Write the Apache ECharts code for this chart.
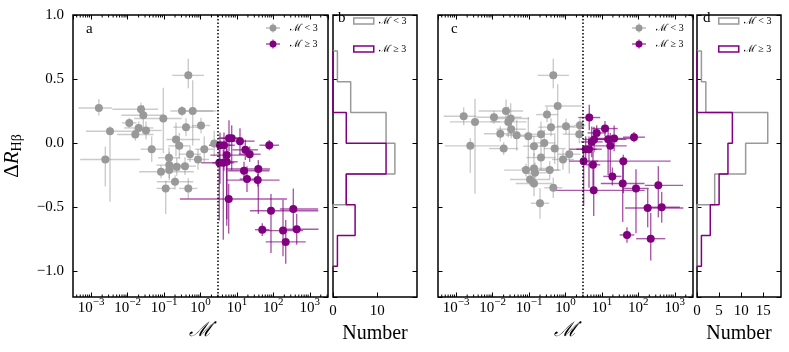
<!DOCTYPE html>
<html>
<head>
<meta charset="utf-8">
<script src="https://cdn.jsdelivr.net/npm/echarts@6/dist/echarts.min.js"></script>
<style>
html, body { margin: 0; padding: 0; background: #fff; }
#chart { width: 789px; height: 352px; }
</style>
</head>
<body>
<div id="chart"></div>
<script>
// each row: [log10 Mdot, dR_Hb, xErrMinus (dex), xErrPlus (dex), yErrMinus, yErrPlus]
const aLow = [
  [-2.79, 0.275, 0.56, 0.36, 0.06, 0.07], [-0.335, 0.529, 0.44, 0.43, 0.10, 0.13],
  [-1.633, 0.265, 0.79, 0.47, 0.06, 0.05], [-1.57, 0.218, 0.6, 0.55, 0.13, 0.08],
  [-1.955, 0.158, 0.2, 0.2, 0.04, 0.04], [-2.484, 0.093, 0.66, 0.69, 0.55, 0.04],
  [-1.02, 0.192, 0.8, 0.5, 0.27, 0.24], [-1.697, 0.119, 0.4, 0.4, 0.05, 0.05],
  [-1.79, 0.068, 0.5, 0.5, 0.05, 0.05], [-1.496, 0.099, 0.35, 0.43, 0.07, 0.07],
  [-1.34, -0.047, 0.3, 0.3, 0.1, 0.1], [-0.508, 0.251, 0.32, 0.86, 0.04, 0.04],
  [-0.214, 0.251, 0.35, 0.65, 0.27, 0.24], [-0.398, 0.125, 0.35, 0.35, 0.07, 0.07],
  [0.014, 0.138, 0.25, 0.25, 0.06, 0.06], [-0.673, 0.029, 0.26, 0.66, 0.13, 0.13],
  [-0.582, -0.021, 0.3, 0.3, 0.1, 0.1], [-0.288, -0.086, 0.3, 0.3, 0.06, 0.06],
  [0.104, -0.047, 0.25, 0.25, 0.1, 0.1], [0.378, -0.003, 0.1, 0.1, 0.1, 0.1],
  [-0.865, -0.114, 0.3, 0.3, 0.08, 0.08], [-0.069, -0.127, 0.3, 0.3, 0.08, 0.08],
  [-2.613, -0.127, 0.69, 0.95, 0.21, 0.1], [-0.857, -0.171, 0.35, 0.35, 0.1, 0.1],
  [-0.653, -0.184, 0.3, 0.3, 0.07, 0.07], [-0.426, -0.179, 0.3, 0.3, 0.07, 0.07],
  [-1.084, -0.223, 0.6, 0.9, 0.05, 0.05], [-0.857, -0.21, 0.3, 0.3, 0.08, 0.08],
  [-0.7, -0.301, 0.5, 0.5, 0.06, 0.05], [-0.955, -0.353, 0.25, 0.25, 0.2, 0.06],
  [-0.335, -0.353, 0.25, 0.25, 0.08, 0.08]
];
const aHigh = [
  [0.535, -0.016, 0.3, 0.3, 0.3, 0.1], [0.645, -0.016, 0.3, 0.3, 0.2, 0.1],
  [0.782, 0.039, 0.3, 0.3, 0.1, 0.14], [0.856, 0.039, 0.3, 0.3, 0.25, 0.1],
  [1.084, 0.016, 0.4, 0.4, 0.1, 0.1], [1.888, -0.016, 0.27, 0.27, 0.04, 0.04],
  [1.23, -0.052, 0.35, 0.35, 0.08, 0.08], [1.35, -0.086, 0.3, 0.3, 0.06, 0.06],
  [0.72, -0.093, 0.45, 0.5, 0.5, 0.1], [0.516, -0.153, 0.5, 0.3, 0.45, 0.1],
  [0.626, -0.153, 0.3, 0.3, 0.6, 0.1], [0.72, -0.145, 0.3, 0.3, 0.5, 0.1],
  [1.194, -0.215, 0.45, 0.7, 0.07, 0.07], [1.587, -0.202, 0.88, 0.32, 0.35, 0.07],
  [1.276, -0.28, 0.2, 0.2, 0.1, 0.1], [1.57, -0.288, 0.85, 0.6, 0.05, 0.05],
  [0.774, -0.436, 1.34, 1.6, 0.27, 0.12], [1.935, -0.527, 0.58, 1.3, 0.33, 0.13],
  [2.548, -0.514, 0.37, 0.68, 0.16, 0.16], [1.696, -0.675, 0.2, 0.2, 0.05, 0.05],
  [2.265, -0.682, 0.55, 0.55, 0.2, 0.24], [2.64, -0.672, 0.46, 0.6, 0.12, 0.12],
  [2.339, -0.77, 0.55, 0.55, 0.17, 0.17]
];
const cLow = [
  [-2.795, 0.21, 0.55, 0.35, 0.07, 0.07], [-2.484, 0.166, 0.69, 0.69, 0.56, 0.18],
  [-2.613, -0.021, 0.7, 0.8, 0.21, 0.06], [-1.963, 0.202, 0.48, 0.76, 0.05, 0.05],
  [-1.633, 0.251, 0.75, 0.47, 0.09, 0.09], [-1.505, 0.192, 0.5, 0.5, 0.12, 0.12],
  [-1.57, 0.166, 0.5, 0.5, 0.12, 0.12], [-1.49, 0.109, 0.4, 0.4, 0.07, 0.07],
  [-1.79, 0.073, 0.45, 0.45, 0.06, 0.06], [-1.34, 0.062, 0.3, 0.3, 0.12, 0.12],
  [-1.02, 0.054, 0.3, 0.3, 0.3, 0.15], [-1.697, -0.042, 0.4, 0.4, 0.05, 0.05],
  [-0.214, 0.29, 0.35, 0.65, 0.5, 0.17], [-0.335, 0.529, 0.43, 0.43, 0.1, 0.13],
  [-0.508, 0.223, 0.3, 0.3, 0.06, 0.06], [-0.398, 0.125, 0.35, 0.75, 0.07, 0.07],
  [0.014, 0.132, 0.25, 0.25, 0.06, 0.06], [0.398, 0.14, 0.15, 0.15, 0.05, 0.05],
  [0.378, 0.07, 0.45, 0.1, 0.07, 0.07], [-0.673, 0.07, 0.35, 0.35, 0.1, 0.1],
  [-0.582, 0.002, 0.3, 0.3, 0.1, 0.1], [-0.865, -0.023, 0.3, 0.3, 0.08, 0.08],
  [-0.297, -0.042, 0.3, 0.3, 0.12, 0.12], [0.104, -0.086, 0.3, 0.3, 0.15, 0.2],
  [-0.673, -0.112, 0.4, 0.4, 0.1, 0.1], [-0.069, -0.127, 0.3, 0.3, 0.08, 0.08],
  [-1.084, -0.21, 0.6, 0.9, 0.05, 0.05], [-0.865, -0.197, 0.35, 0.35, 0.12, 0.12],
  [-0.837, -0.231, 0.3, 0.3, 0.08, 0.08], [-0.434, -0.21, 0.3, 0.3, 0.07, 0.07],
  [-0.974, -0.283, 0.55, 0.55, 0.05, 0.05], [-0.865, -0.314, 0.5, 0.5, 0.1, 0.05],
  [-0.335, -0.348, 0.25, 0.25, 0.08, 0.08], [-0.7, -0.469, 0.25, 0.25, 0.12, 0.12]
];
const cHigh = [
  [0.653, 0.2, 0.3, 0.3, 0.1, 0.1], [1.084, 0.114, 0.35, 0.35, 0.06, 0.06],
  [0.856, 0.08, 0.25, 0.25, 0.06, 0.06], [1.88, 0.047, 0.3, 0.3, 0.04, 0.04],
  [1.17, 0.031, 0.5, 0.5, 0.28, 0.1], [1.335, 0.037, 0.5, 0.5, 0.1, 0.1],
  [0.782, 0.029, 0.3, 0.3, 0.1, 0.1], [0.72, 0.01, 0.3, 0.3, 0.12, 0.12],
  [1.23, -0.021, 0.45, 0.45, 0.25, 0.1], [0.554, -0.047, 0.45, 0.3, 0.1, 0.1],
  [0.645, -0.047, 0.35, 0.35, 0.3, 0.1], [0.498, -0.14, 0.4, 0.4, 0.35, 0.1],
  [0.755, -0.169, 0.2, 0.2, 0.2, 0.1], [1.587, -0.14, 0.87, 1.3, 0.25, 0.05],
  [1.286, -0.259, 0.25, 0.25, 0.07, 0.07], [1.57, -0.314, 0.6, 0.6, 0.3, 0.2],
  [1.935, -0.353, 0.35, 0.35, 0.35, 0.15], [2.548, -0.329, 0.37, 0.68, 0.25, 0.15],
  [0.774, -0.368, 1.1, 1.4, 0.2, 0.2], [2.256, -0.506, 0.62, 0.98, 0.15, 0.15],
  [2.64, -0.5, 0.5, 0.5, 0.12, 0.12], [1.688, -0.716, 0.2, 0.2, 0.06, 0.06],
  [2.339, -0.745, 0.4, 0.4, 0.17, 0.2]
];

// histogram bins (dR edges, bottom to top) and counts per bin
const binEdges = [-0.96, -0.72, -0.48, -0.24, 0, 0.24, 0.48, 0.72];
const bLowCounts = [0, 0, 3, 14, 12, 4, 1];
const bHighCounts = [1, 5, 3, 12, 3, 0, 0];
const dLowCounts = [0, 0, 4, 11, 16, 2, 1];
const dHighCounts = [1, 3, 5, 7, 8, 0, 0];

const MDOT_SPLIT = 3;
const LOW = 'ℳ̇ < 3';
const HIGH = 'ℳ̇ ≥ 3';
const Y_MIN = -1.2, Y_MAX = 1.0;
const X_MIN = -3.5, X_MAX = 3.5;

const FONT = "'Liberation Serif', 'DejaVu Serif', serif";
const GREY = '#999999';
const PURPLE = '#800080';

const chart = echarts.init(document.getElementById('chart'));

// outline of a horizontal step histogram
function stepPoints(edges, counts) {
  const pts = [[0, edges[0]]];
  counts.forEach((c, i) => {
    pts.push([c, edges[i]]);
    pts.push([c, edges[i + 1]]);
  });
  pts.push([0, edges[edges.length - 1]]);
  return pts;
}

// minor ticks of the log axis, at 2..9 x 10^n
const minorTicks = [];
for (let n = -4; n <= 3; n++) {
  for (let k = 2; k <= 9; k++) {
    const v = n + Math.log10(k);
    if (v > X_MIN && v < X_MAX) minorTicks.push([v, 0]);
  }
}

function errorBarSeries(rows, xi, yi, color) {
  return {
    type: 'custom',
    xAxisIndex: xi,
    yAxisIndex: yi,
    silent: true,
    data: rows,
    renderItem(params, api) {
      const x = api.value(0), y = api.value(1);
      const l = api.coord([x - api.value(2), y]);
      const r = api.coord([x + api.value(3), y]);
      const b = api.coord([x, y - api.value(4)]);
      const t = api.coord([x, y + api.value(5)]);
      const style = { stroke: color, lineWidth: 1.4 };
      return {
        type: 'group',
        children: [
          { type: 'line', shape: { x1: l[0], y1: l[1], x2: r[0], y2: r[1] }, style },
          { type: 'line', shape: { x1: b[0], y1: b[1], x2: t[0], y2: t[1] }, style }
        ]
      };
    }
  };
}

function markerSeries(name, rows, xi, yi, color, withLine) {
  const s = {
    name,
    type: 'scatter',
    xAxisIndex: xi,
    yAxisIndex: yi,
    symbolSize: 8,
    itemStyle: { color, opacity: 1 },
    data: rows.map(r => [r[0], r[1]])
  };
  if (withLine) {
    s.markLine = {
      silent: true,
      symbol: ['none', 'none'],
      label: { show: false },
      lineStyle: { color: '#000', type: [1.5, 2], width: 1.5 },
      data: [{ xAxis: Math.log10(MDOT_SPLIT) }]
    };
  }
  return s;
}

function minorTickSeries(xi, yi) {
  return {
    type: 'custom',
    xAxisIndex: xi,
    yAxisIndex: yi,
    silent: true,
    data: minorTicks,
    renderItem(params, api) {
      const v = api.value(0);
      const bot = api.coord([v, Y_MIN]);
      const top = api.coord([v, Y_MAX]);
      const style = { stroke: '#000', lineWidth: 1 };
      return {
        type: 'group',
        children: [
          { type: 'line', shape: { x1: bot[0], y1: bot[1], x2: bot[0], y2: bot[1] - 2.5 }, style },
          { type: 'line', shape: { x1: top[0], y1: top[1], x2: top[0], y2: top[1] + 2.5 }, style }
        ]
      };
    }
  };
}

function histSeries(name, counts, xi, yi, color) {
  return {
    name,
    type: 'line',
    xAxisIndex: xi,
    yAxisIndex: yi,
    symbol: 'none',
    lineStyle: { color, width: 1.5 },
    itemStyle: { color },
    data: stepPoints(binEdges, counts)
  };
}

const tickStyle = { inside: true, length: 4.5, lineStyle: { color: '#000', width: 1 } };
const noLine = { show: false, onZero: false };

function logAxis(gridIndex, position, labels) {
  return {
    type: 'value',
    gridIndex,
    position,
    min: X_MIN,
    max: X_MAX,
    splitNumber: 7,
    axisLine: noLine,
    axisTick: tickStyle,
    splitLine: { show: false },
    axisLabel: {
      show: labels,
      showMinLabel: false,
      showMaxLabel: false,
      margin: 0,
      formatter: v => '{b|10}{s|' + (v < 0 ? '−' + (-v) : v) + '}',
      rich: {
        b: { fontFamily: FONT, fontSize: 15, color: '#000', lineHeight: 19, verticalAlign: 'bottom' },
        s: { fontFamily: FONT, fontSize: 11, color: '#000', lineHeight: 11, verticalAlign: 'top' }
      }
    },
    name: labels ? 'ℳ̇' : '',
    nameLocation: 'middle',
    nameGap: 22,
    nameTextStyle: { fontFamily: FONT, fontSize: 20, color: '#000', fontStyle: 'italic' }
  };
}

function countAxis(gridIndex, interval) {
  return {
    type: 'value',
    gridIndex,
    min: 0,
    max: 19,
    interval,
    axisLine: noLine,
    axisTick: tickStyle,
    splitLine: { show: false },
    axisLabel: { showMaxLabel: false, margin: 7, fontFamily: FONT, fontSize: 15, color: '#000' },
    name: 'Number',
    nameLocation: 'middle',
    nameGap: 24,
    nameTextStyle: { fontFamily: FONT, fontSize: 20, color: '#000' }
  };
}

function dRAxis(gridIndex, position, labels) {
  const ax = {
    type: 'value',
    gridIndex,
    position,
    min: Y_MIN,
    max: Y_MAX,
    splitNumber: 4,
    axisLine: noLine,
    axisTick: tickStyle,
    splitLine: { show: false },
    axisLabel: {
      show: labels,
      showMinLabel: false,
      margin: 9,
      fontFamily: FONT,
      fontSize: 15,
      color: '#000',
      formatter: v => (v < 0 ? '−' : '') + Math.abs(v).toFixed(1)
    }
  };
  if (labels) {
    ax.name = 'Δ{i|R}{s|Hβ}';
    ax.nameLocation = 'middle';
    ax.nameGap = 49;
    ax.nameTextStyle = {
      fontFamily: FONT, fontSize: 21, color: '#000',
      rich: {
        i: { fontFamily: FONT, fontSize: 21, fontStyle: 'italic', color: '#000' },
        s: { fontFamily: FONT, fontSize: 14, color: '#000', verticalAlign: 'bottom', lineHeight: 23 }
      }
    };
  }
  return ax;
}

const markerIcon = 'path://M0,4h14v1h-14z M6.5,0h1v9h-1z M10.5,4.5a3.5,3.5 0 1,1 -7,0a3.5,3.5 0 1,1 7,0z';
const legendText = { fontFamily: FONT, fontSize: 10, color: '#000' };

function markerLegend(left) {
  return {
    left, top: 23, orient: 'vertical', itemWidth: 14, itemHeight: 9, itemGap: 6,
    selectedMode: false, padding: 0,
    textStyle: Object.assign({ padding: [0, 0, 0, 5] }, legendText),
    data: [
      { name: LOW, icon: markerIcon, itemStyle: { color: GREY, borderWidth: 0 } },
      { name: HIGH, icon: markerIcon, itemStyle: { color: PURPLE, borderWidth: 0 } }
    ]
  };
}

function histLegend(left, top) {
  return {
    left, top, orient: 'vertical', itemWidth: 20, itemHeight: 6, itemGap: 18,
    selectedMode: false, padding: 0,
    textStyle: legendText,
    data: [
      { name: LOW, icon: 'rect', itemStyle: { color: 'rgba(0,0,0,0)', borderColor: GREY, borderWidth: 1.5 } },
      { name: HIGH, icon: 'rect', itemStyle: { color: 'rgba(0,0,0,0)', borderColor: PURPLE, borderWidth: 1.5 } }
    ]
  };
}

const panelLetter = (text, left, top) => ({
  text, left, top, padding: 0,
  textStyle: { fontFamily: FONT, fontSize: 15, fontWeight: 'normal', color: '#000' }
});

const gridBase = { top: 15, height: 282, show: true, borderColor: '#000', borderWidth: 1.5, backgroundColor: 'rgba(0,0,0,0)' };

const option = {
  animation: false,
  backgroundColor: '#fff',
  title: [
    panelLetter('a', 86, 22),
    panelLetter('b', 338, 11),
    panelLetter('c', 451, 22),
    panelLetter('d', 703, 11)
  ],
  legend: [
    markerLegend(266),
    histLegend(353, 16),
    markerLegend(632),
    histLegend(718, 16)
  ],
  grid: [
    Object.assign({ left: 73, width: 255 }, gridBase),
    Object.assign({ left: 333, width: 84 }, gridBase),
    Object.assign({ left: 438, width: 255 }, gridBase),
    Object.assign({ left: 697, width: 84 }, gridBase)
  ],
  xAxis: [
    logAxis(0, 'bottom', true),
    logAxis(0, 'top', false),
    countAxis(1, 10),
    logAxis(2, 'bottom', true),
    logAxis(2, 'top', false),
    countAxis(3, 5)
  ],
  yAxis: [
    dRAxis(0, 'left', true),
    dRAxis(0, 'right', false),
    dRAxis(1, 'left', false),
    dRAxis(1, 'right', false),
    dRAxis(2, 'left', false),
    dRAxis(2, 'right', false),
    dRAxis(3, 'left', false),
    dRAxis(3, 'right', false)
  ],
  series: [
    minorTickSeries(0, 0),
    errorBarSeries(aLow, 0, 0, 'rgba(140,140,140,0.45)'),
    markerSeries(LOW, aLow, 0, 0, GREY, true),
    errorBarSeries(aHigh, 0, 0, 'rgba(128,0,128,0.65)'),
    markerSeries(HIGH, aHigh, 0, 0, PURPLE, false),

    histSeries(LOW, bLowCounts, 2, 2, GREY),
    histSeries(HIGH, bHighCounts, 2, 2, PURPLE),

    minorTickSeries(3, 4),
    errorBarSeries(cLow, 3, 4, 'rgba(140,140,140,0.45)'),
    markerSeries(LOW, cLow, 3, 4, GREY, true),
    errorBarSeries(cHigh, 3, 4, 'rgba(128,0,128,0.65)'),
    markerSeries(HIGH, cHigh, 3, 4, PURPLE, false),

    histSeries(LOW, dLowCounts, 5, 6, GREY),
    histSeries(HIGH, dHighCounts, 5, 6, PURPLE)
  ]
};

chart.setOption(option);
</script>
</body>
</html>
